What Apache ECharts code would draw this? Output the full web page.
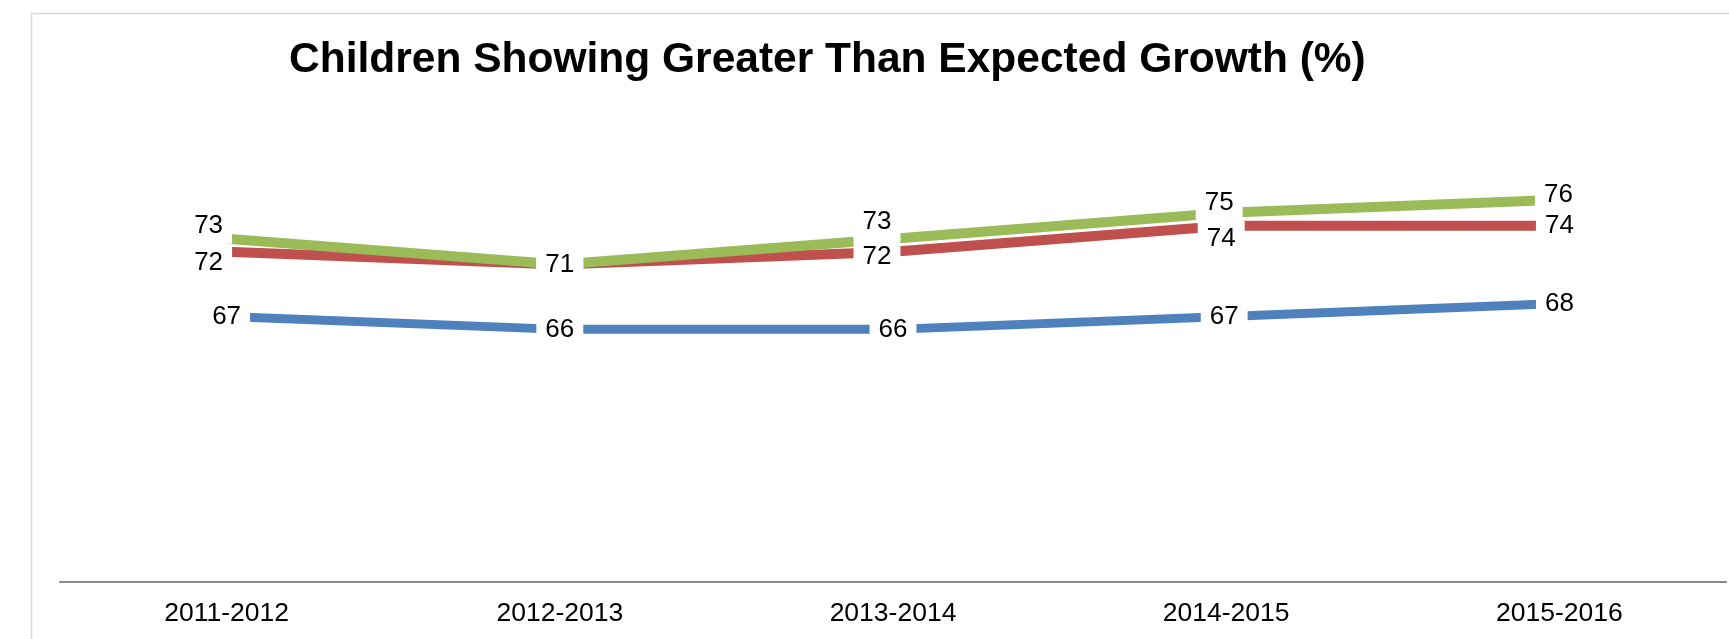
<!DOCTYPE html>
<html>
<head>
<meta charset="utf-8">
<title>Children Showing Greater Than Expected Growth (%)</title>
<script src="https://cdn.jsdelivr.net/npm/echarts@6/dist/echarts.min.js"></script>
<style>
  html, body { margin: 0; padding: 0; background: #ffffff; }
  #chart { width: 1729px; height: 639px; }
</style>
</head>
<body>
<div id="chart"></div>
<script>
// School years on the horizontal axis
const categories = ['2011-2012', '2012-2013', '2013-2014', '2014-2015', '2015-2016'];

// Percentage of children showing greater than expected growth, per group
const blueValues  = [67, 66, 66, 67, 68];
const redValues   = [72, 71, 72, 74, 74];
const greenValues = [73, 71, 73, 75, 76];

// Nudges for the value labels so neighbouring labels do not collide
const labelNudges = {
  blue:  [[0, 0], [0, 0], [0, 0], [-2, 0], [0, 0]],
  red:   [[-18, 11], [0, 0], [-16, 5], [-5, 13], [0, 0]],
  green: [[-18, -13], [0, 0], [-16, -17], [-7, -10], [-1, -5]]
};

const FONT = '"Liberation Sans", Arial, Helvetica, sans-serif';

function buildSeries(name, values, color, width, nudges) {
  return {
    name: name,
    type: 'line',
    data: values.map(function (v, i) {
      return { value: v, label: { offset: nudges[i] } };
    }),
    symbol: 'circle',
    symbolSize: 1,
    showSymbol: true,
    itemStyle: { color: color },
    lineStyle: { color: color, width: width, cap: 'butt', join: 'round' },
    label: {
      show: true,
      position: 'inside',
      color: '#000000',
      fontFamily: FONT,
      fontSize: 26,
      backgroundColor: '#ffffff',
      padding: [5, 9]
    },
    emphasis: { disabled: true },
    animation: false
  };
}

const chart = echarts.init(document.getElementById('chart'), null, { renderer: 'canvas' });

chart.setOption({
  backgroundColor: '#ffffff',
  animation: false,
  title: {
    text: 'Children Showing Greater Than Expected Growth (%)',
    left: 284,
    top: 34,
    textStyle: {
      fontFamily: FONT,
      fontSize: 42.5,
      fontWeight: 'bold',
      color: '#000000'
    }
  },
  graphic: [{
    type: 'rect',
    z: -10,
    silent: true,
    shape: { x: 31.5, y: 13.5, width: 2000, height: 1000 },
    style: { fill: null, stroke: '#d9d9d9', lineWidth: 1.5 }
  }],
  grid: { left: 60, right: 3, top: 148, bottom: 57, containLabel: false },
  xAxis: {
    type: 'category',
    data: categories,
    boundaryGap: true,
    axisLine: { show: true, lineStyle: { color: '#898989', width: 2 } },
    axisTick: { show: false },
    axisLabel: {
      color: '#000000',
      fontFamily: FONT,
      fontSize: 26.5,
      margin: 18
    },
    splitLine: { show: false }
  },
  yAxis: {
    type: 'value',
    min: 46.5,
    max: 80,
    show: false,
    splitLine: { show: false }
  },
  tooltip: { show: false },
  legend: { show: false },
  series: [
    buildSeries('Blue group', blueValues, '#4f81bd', 9, labelNudges.blue),
    buildSeries('Red group', redValues, '#c0504d', 10, labelNudges.red),
    buildSeries('Green group', greenValues, '#9bbb59', 10, labelNudges.green)
  ]
});
</script>
</body>
</html>
